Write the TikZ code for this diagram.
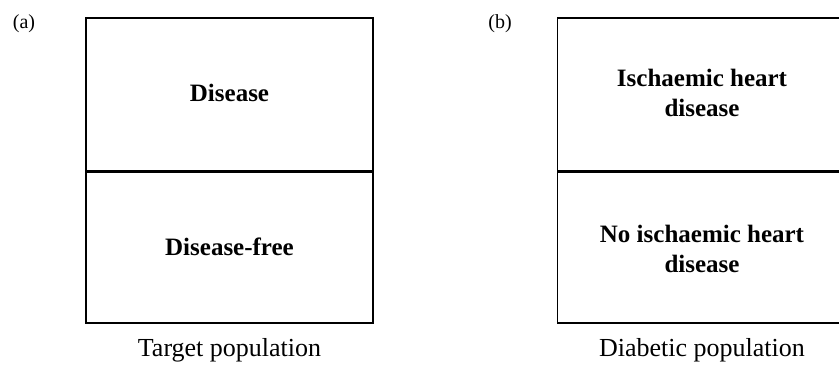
\documentclass[tikz,border=0pt]{standalone}
\usepackage{fontspec}
\setmainfont{Liberation Serif}
\begin{document}
\begin{tikzpicture}[x=1pt,y=-1pt,
  boxline/.style={line width=1.4pt},
  divline/.style={line width=3pt},
  inner/.style={font=\fontsize{25}{30}\selectfont\bfseries, align=center},
  caption/.style={font=\fontsize{26}{30}\selectfont},
  tag/.style={font=\fontsize{20}{22}\selectfont}]
\useasboundingbox (0,0) rectangle (839,366);
% panel (a)
\node[draw, boxline, minimum width=287pt, minimum height=305pt, inner sep=0pt] (boxA) at (229.5,170.5) {};
\coordinate (aL) at (86,172);
\coordinate (aR) at (373,172);
\draw[divline] (aL) -- (aR);
\node[tag] (tagA) at (24,24) {(a)};
\node[inner] (dis) at (229.5,93) {Disease};
\node[inner] (free) at (229.5,247) {Disease-free};
\node[caption] (capA) at (229.5,350) {Target population};
% panel (b)
\node[draw, boxline, minimum width=287pt, minimum height=305pt, inner sep=0pt] (boxB) at (701,170.5) {};
\coordinate (bL) at (557.5,172);
\coordinate (bR) at (844.5,172);
\draw[divline] (bL) -- (bR);
\node[tag] (tagB) at (500,24) {(b)};
\node[inner] (ihd) at (702,93) {Ischaemic heart\\disease};
\node[inner] (noihd) at (702,248.5) {No ischaemic heart\\disease};
\node[caption] (capB) at (702,350) {Diabetic population};
\end{tikzpicture}
\end{document}
